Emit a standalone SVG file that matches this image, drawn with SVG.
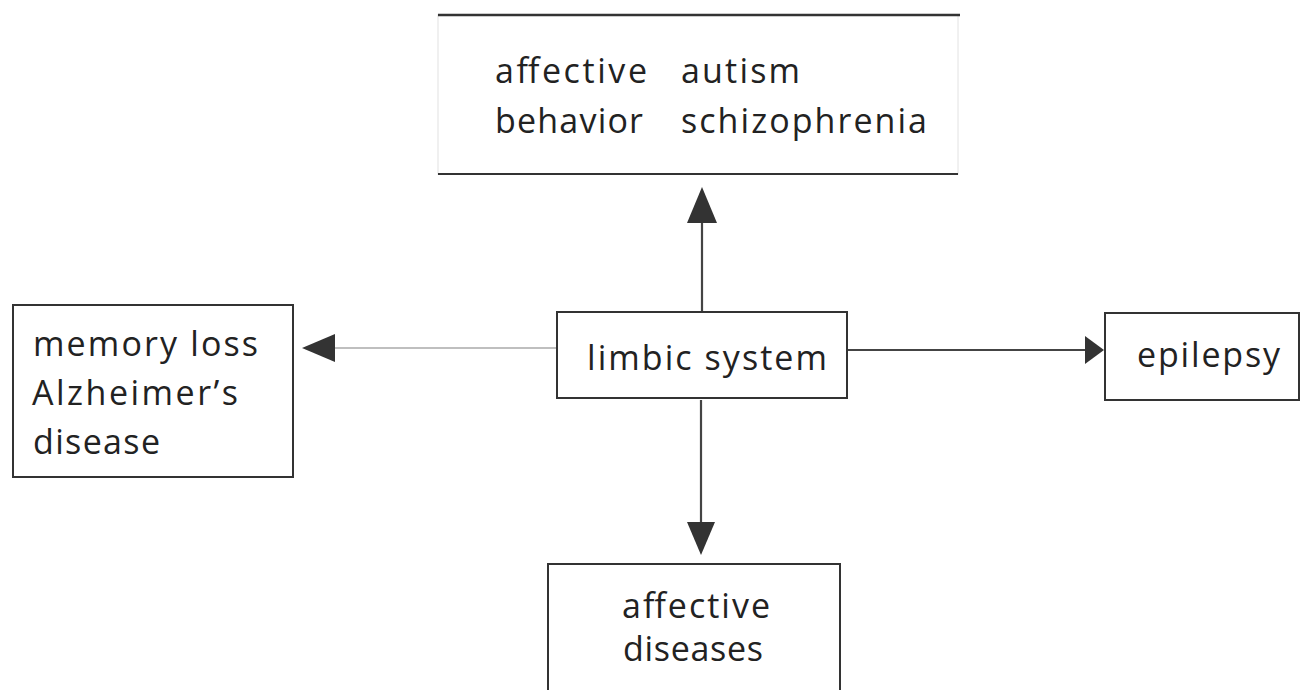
<svg xmlns="http://www.w3.org/2000/svg" width="1301" height="690" viewBox="0 0 1301 690">
<defs>
<style>
.box{fill:#fff;stroke:#333;stroke-width:2}
.t{font-family:"Open Sans","Liberation Sans",sans-serif;font-size:34px;fill:#222}
.c{stroke:#444;stroke-width:2.2;fill:none}
.cl{stroke:#aaa;stroke-width:1.5;fill:none}
.ah{fill:#333}
</style>
</defs>
<rect width="1301" height="690" fill="#fff"/>
<g id="connectors">
<line class="c" x1="702" y1="312" x2="702" y2="220"/>
<polygon class="ah" points="702,187 687,223 717,223"/>
<line class="cl" x1="557" y1="348" x2="332" y2="348"/>
<polygon class="ah" points="302,348 335,334 335,362"/>
<line class="c" x1="847" y1="350" x2="1088" y2="350"/>
<polygon class="ah" points="1104,350 1085,336 1085,364"/>
<line class="c" x1="701" y1="400" x2="701" y2="525"/>
<polygon class="ah" points="701,555 687,522 715,522"/>
</g>
<g id="top-box">
<rect x="438" y="15" width="520" height="159" fill="#fff" stroke="#ececec" stroke-width="1.5"/>
<line x1="438" y1="15" x2="960" y2="15" stroke="#333" stroke-width="2.5"/>
<line x1="438" y1="174" x2="958" y2="174" stroke="#333" stroke-width="2"/>
<text class="t" x="495" y="83" textLength="152" lengthAdjust="spacing">affective</text>
<text class="t" x="681" y="83" textLength="119" lengthAdjust="spacing">autism</text>
<text class="t" x="495" y="133" textLength="148" lengthAdjust="spacing">behavior</text>
<text class="t" x="681" y="133" textLength="246" lengthAdjust="spacing">schizophrenia</text>
</g>
<g id="limbic">
<rect class="box" x="557" y="312" width="290" height="86"/>
<text class="t" x="587" y="370" textLength="240" lengthAdjust="spacing">limbic system</text>
</g>
<g id="memory">
<rect class="box" x="13" y="305" width="280" height="172"/>
<text class="t" x="33" y="356" textLength="225" lengthAdjust="spacing">memory loss</text>
<text class="t" x="32" y="405" textLength="206" lengthAdjust="spacing">Alzheimer’s</text>
<text class="t" x="33" y="454" textLength="127" lengthAdjust="spacing">disease</text>
</g>
<g id="epilepsy">
<rect class="box" x="1105" y="313" width="194" height="87"/>
<text class="t" x="1137" y="367" textLength="143" lengthAdjust="spacing">epilepsy</text>
</g>
<g id="affective-diseases">
<rect class="box" x="548" y="564" width="292" height="140"/>
<text class="t" x="622" y="618" textLength="148" lengthAdjust="spacing">affective</text>
<text class="t" x="623" y="661" textLength="140" lengthAdjust="spacing">diseases</text>
</g>
</svg>
